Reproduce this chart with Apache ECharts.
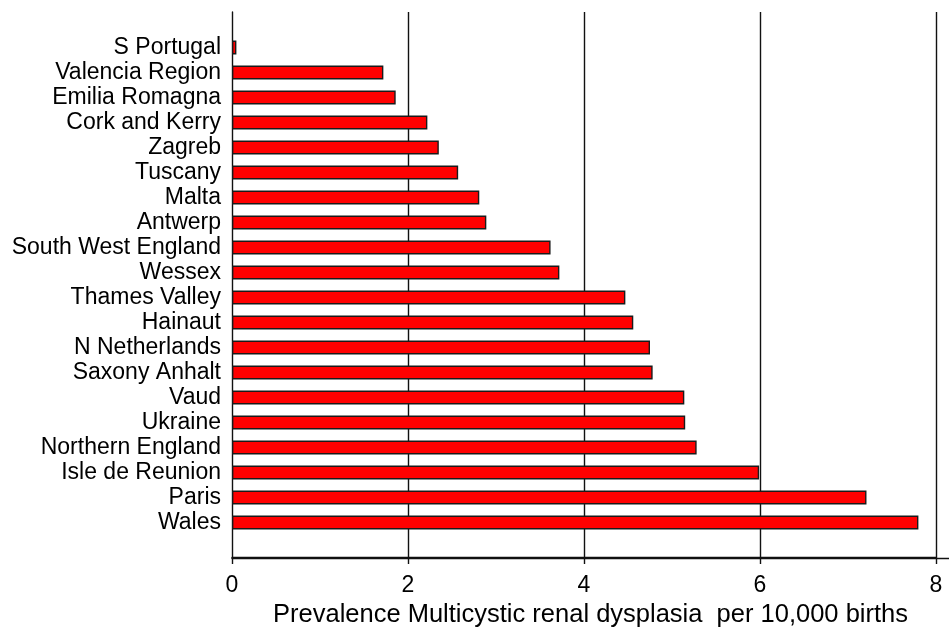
<!DOCTYPE html>
<html>
<head>
<meta charset="utf-8">
<script src="https://cdn.jsdelivr.net/npm/echarts@6/dist/echarts.min.js"></script>
<style>
html,body{margin:0;padding:0;background:#fff;}
#chart{width:949px;height:633px;}
</style>
</head>
<body>
<div id="chart"></div>
<script>
const categories = ["S Portugal","Valencia Region","Emilia Romagna","Cork and Kerry","Zagreb","Tuscany","Malta","Antwerp","South West England","Wessex","Thames Valley","Hainaut","N Netherlands","Saxony Anhalt","Vaud","Ukraine","Northern England","Isle de Reunion","Paris","Wales"];
const prevalence = [0.05,1.72,1.86,2.22,2.35,2.57,2.81,2.89,3.62,3.72,4.47,4.56,4.75,4.78,5.14,5.15,5.28,5.99,7.21,7.80];
const xTicks = [0,2,4,6,8];
const xAxisTitle = "Prevalence Multicystic renal dysplasia  per 10,000 births";

const FONT = "'Liberation Sans', Arial, sans-serif";
const chart = echarts.init(document.getElementById('chart'), null, {renderer:'canvas'});
const XMIN = xTicks[0], XMAX = xTicks[xTicks.length - 1];
const LINE = '#111';
chart.setOption({
  animation:false,
  backgroundColor:'#fff',
  grid:[
    {left:232, right:13, top:12, bottom:75, containLabel:false},
    {left:232, right:13, top:35, bottom:98, containLabel:false},
    {left:232, right:0, top:12, bottom:75, containLabel:false}
  ],
  xAxis:[
    {
      type:'value', gridIndex:0, min:XMIN, max:XMAX, interval:2,
      name:xAxisTitle, nameLocation:'middle', nameGap:45,
      nameTextStyle:{fontFamily:FONT, fontSize:25.5, color:'#000', padding:[0,0,0,13]},
      axisLine:{show:true, lineStyle:{color:LINE, width:1.4}},
      axisTick:{show:true, length:7, lineStyle:{color:LINE, width:1.4}},
      axisLabel:{show:true, margin:17, fontFamily:FONT, fontSize:23, color:'#000'},
      splitLine:{show:false}
    },
    {
      type:'value', gridIndex:1, min:XMIN, max:XMAX,
      axisLine:{show:false}, axisTick:{show:false}, axisLabel:{show:false}, splitLine:{show:false}
    },
    {
      type:'value', gridIndex:2, min:0, max:1,
      axisLine:{show:true, lineStyle:{color:LINE, width:1.4}},
      axisTick:{show:false}, axisLabel:{show:false}, splitLine:{show:false}
    }
  ],
  yAxis:[
    {
      type:'value', gridIndex:0, min:0, max:1,
      axisLine:{show:true, lineStyle:{color:LINE, width:1.4}},
      axisTick:{show:false}, axisLabel:{show:false}, splitLine:{show:false}
    },
    {
      type:'category', gridIndex:1, data:categories, inverse:true,
      axisLine:{show:false}, axisTick:{show:false},
      axisLabel:{interval:0, margin:11, fontFamily:FONT, fontSize:23, color:'#000'},
      splitLine:{show:false}
    },
    {
      type:'value', gridIndex:2, min:0, max:1, show:false,
      axisLine:{show:false}, axisTick:{show:false}, axisLabel:{show:false}, splitLine:{show:false}
    }
  ],
  series:[
    {
      type:'line', xAxisIndex:0, yAxisIndex:0, data:[[XMIN,0]], symbol:'none',
      lineStyle:{opacity:0}, silent:true, z:1,
      markLine:{
        silent:true, symbol:['none','none'], z:1,
        label:{show:false},
        lineStyle:{color:LINE, width:1.4, type:'solid'},
        data:xTicks.slice(1).map(v => ({xAxis:v}))
      }
    },
    {
      type:'bar', xAxisIndex:1, yAxisIndex:1, data:prevalence, barWidth:14,
      itemStyle:{color:'#ff0000', borderColor:'#1a1a1a', borderWidth:1.4},
      z:20
    }
  ]
});
</script>
</body>
</html>
